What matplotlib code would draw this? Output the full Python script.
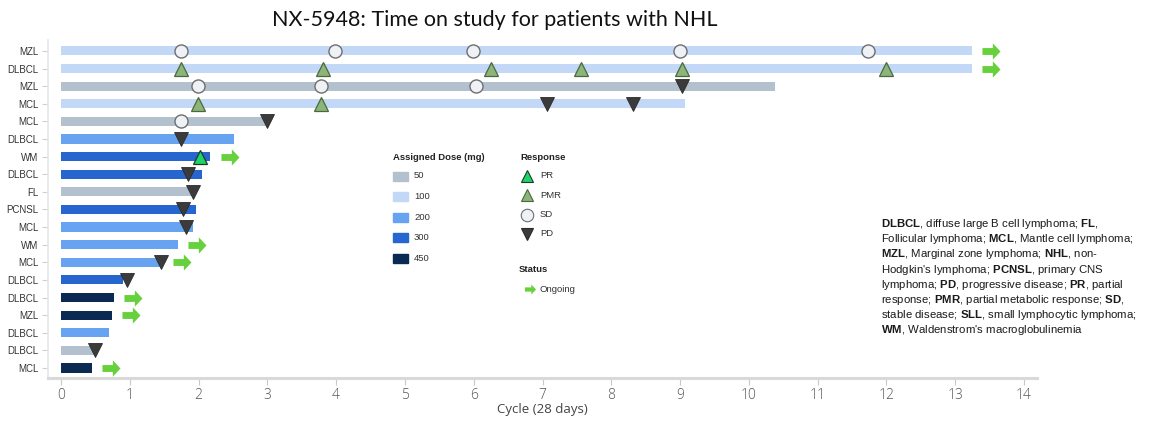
import matplotlib
matplotlib.use("Agg")
import matplotlib.pyplot as plt
from matplotlib.path import Path
import numpy as np

plt.rcParams['mathtext.fontset'] = 'custom'
plt.rcParams['mathtext.rm'] = 'Liberation Sans'
plt.rcParams['mathtext.bf'] = 'Liberation Sans:bold'
plt.rcParams['font.family'] = ['Liberation Sans', 'DejaVu Sans']

# ---------------- data ----------------
diagnoses = ["MZL", "DLBCL", "MZL", "MCL", "MCL", "DLBCL", "WM", "DLBCL", "FL", "PCNSL",
             "MCL", "WM", "MCL", "DLBCL", "DLBCL", "MZL", "DLBCL", "DLBCL", "MCL"]
doses = [100, 100, 50, 100, 50, 200, 300, 300, 50, 300,
         200, 200, 200, 300, 450, 450, 200, 50, 450]
durations = [13.24, 13.24, 10.38, 9.07, 2.99, 2.51, 2.17, 2.05, 1.90, 1.96,
             1.92, 1.70, 1.48, 0.90, 0.77, 0.74, 0.70, 0.52, 0.45]
ongoing = [True, True, False, False, False, False, True, False, False, False,
           False, True, True, False, True, True, False, False, True]
# responses: (row index, cycle)
pr_points = [(6, 2.02)]
pmr_points = [(1, 1.74), (1, 3.81), (1, 6.25), (1, 7.56), (1, 9.03), (1, 12.0),
              (3, 1.99), (3, 3.78)]
sd_points = [(0, 1.74), (0, 3.98), (0, 5.99), (0, 9.0), (0, 11.73),
             (2, 1.99), (2, 3.78), (2, 6.03), (4, 1.74)]
pd_points = [(2, 9.03), (3, 7.06), (3, 8.31), (4, 3.0), (5, 1.74), (7, 1.85), (8, 1.92),
             (9, 1.77), (10, 1.82), (12, 1.45), (13, 0.96), (17, 0.49)]
dose_levels = [50, 100, 200, 300, 450]
dose_colors = {50: "#b3c0ce", 100: "#c3d8f7", 200: "#68a3f2", 300: "#2766cf", 450: "#0a2a52"}
xticks = list(range(0, 15))

# ---------------- styles ----------------
W, H = 1157, 421
fig = plt.figure(figsize=(W / 100, H / 100), dpi=100)
ax = fig.add_axes([48 / W, 43 / H, (1037 - 48) / W, (378 - 40) / H])

arrow_path = Path([(-1.0, -0.38), (0.15, -0.38), (0.15, -0.9), (1.0, 0.0),
                   (0.15, 0.9), (0.15, 0.38), (-1.0, 0.38), (-1.0, -0.38)],
                  [Path.MOVETO] + [Path.LINETO] * 6 + [Path.CLOSEPOLY])
arrow_color = "#66d13c"
arrow_offset = 0.28

rows = np.arange(len(diagnoses))
ax.barh(rows, durations, height=0.52, color=[dose_colors[d] for d in doses], zorder=2)

for r, (dur, og) in enumerate(zip(durations, ongoing)):
    if og:
        ax.plot(dur + arrow_offset, r, marker=arrow_path, markersize=13, color=arrow_color,
                markeredgewidth=0, zorder=4)

def pts(lst):
    return [p[1] for p in lst], [p[0] for p in lst]

x, y = pts(sd_points)
ax.plot(x, y, 'o', ms=9.4, mfc="#eef1f6", mec="#6e6e6e", mew=1.0, zorder=5, ls='none')
x, y = pts(pmr_points)
ax.plot(x, y, '^', ms=9.4, mfc="#8db47a", mec="#4a6a3b", mew=0.9, zorder=5, ls='none')
x, y = pts(pr_points)
ax.plot(x, y, '^', ms=9.4, mfc="#1fd36a", mec="#1d3b26", mew=0.9, zorder=5, ls='none')
x, y = pts(pd_points)
ax.plot(x, y, 'v', ms=9.5, mfc="#3b3b3b", mec="#2a2a2a", mew=0.6, zorder=5, ls='none')

ax.set_xlim(-0.19, 14.19)
ax.set_ylim(18.57, -0.62)
ax.set_yticks(rows)
ax.set_yticklabels(diagnoses, fontsize=7, color="#333333")
ax.set_xticks(xticks)
ax.set_xticklabels([str(t) for t in xticks], fontsize=10, color="#555555",
                   family=['Open Sans', 'DejaVu Sans'], fontweight='light')
ax.set_xlabel("Cycle (28 days)", fontsize=9.5, color="#444444",
              family=['Open Sans', 'DejaVu Sans'], labelpad=0)
for s in ["top", "right"]:
    ax.spines[s].set_visible(False)
ax.spines["left"].set_color("#e3e6ec")
ax.spines["left"].set_linewidth(1.2)
ax.spines["bottom"].set_color("#d9d9d9")
ax.spines["bottom"].set_linewidth(2.2)
ax.tick_params(axis='y', length=4, color="#d0d0d0", width=0.8, pad=3)
ax.tick_params(axis='x', length=5, color="#c8c8c8", width=0.8, pad=2)

fig.text(495 / W, 1 - 20 / H, "NX-5948: Time on study for patients with NHL",
         ha='center', va='center', fontsize=15.5, family=['Lato', 'DejaVu Sans'], color="#111111")

# ---------------- legend (overlay in pixel space) ----------------
lax = fig.add_axes([0, 0, 1, 1], facecolor='none')
lax.set_xlim(0, W)
lax.set_ylim(H, 0)
lax.axis('off')

lax.text(393, 157, "Assigned Dose (mg)", fontsize=6.8, fontweight='bold', va='center', color="#222222")
for i, d in enumerate(dose_levels):
    yy = 176 + i * 20.6
    lax.add_patch(plt.Rectangle((393, yy - 4.5), 15, 9, color=dose_colors[d]))
    lax.text(414, yy, str(d), fontsize=6.8, va='center', color="#333333")

lax.text(520, 157, "Response", fontsize=6.8, fontweight='bold', va='center', color="#222222")
resp = [("PR", '^', "#1fd36a", "#1d3b26"), ("PMR", '^', "#8db47a", "#4a6a3b"),
        ("SD", 'o', "#eef1f6", "#6e6e6e"), ("PD", 'v', "#3b3b3b", "#2a2a2a")]
for i, (lab, m, fc, ec) in enumerate(resp):
    yy = 176 + i * 19.3
    lax.plot(527, yy, marker=m, ms=9, mfc=fc, mec=ec, mew=0.8)
    lax.text(540, yy, lab, fontsize=6.8, va='center', color="#333333")

lax.text(519, 269, "Status", fontsize=6.8, fontweight='bold', va='center', color="#222222")
lax.plot(530, 289, marker=arrow_path, ms=8, color=arrow_color, mew=0)
lax.text(539, 289, "Ongoing", fontsize=6.8, va='center', color="#333333")

abbrev = [r"$\bf{DLBCL}$, diffuse large B cell lymphoma; $\bf{FL}$,",
          r"Follicular lymphoma; $\bf{MCL}$, Mantle cell lymphoma;",
          r"$\bf{MZL}$, Marginal zone lymphoma; $\bf{NHL}$, non-",
          r"Hodgkin's lymphoma; $\bf{PCNSL}$, primary CNS",
          r"lymphoma; $\bf{PD}$, progressive disease; $\bf{PR}$, partial",
          r"response; $\bf{PMR}$, partial metabolic response; $\bf{SD}$,",
          r"stable disease; $\bf{SLL}$, small lymphocytic lymphoma;",
          r"$\bf{WM}$, Waldenstrom's macroglobulinemia"]
for i, line in enumerate(abbrev):
    lax.text(881, 224 + i * 15.2, line, fontsize=8.2, va='center', color="#1a1a1a")

fig.savefig("out.png", dpi=100)
